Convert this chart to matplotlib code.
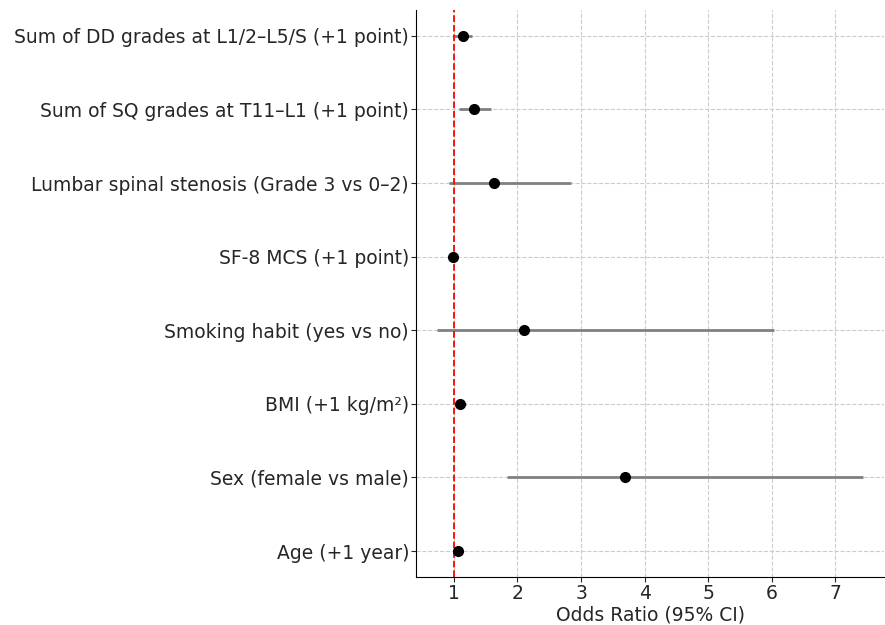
import matplotlib
matplotlib.use("Agg")
import matplotlib.pyplot as plt

# --- Data ---
labels = [
    "Sum of DD grades at L1/2\u2013L5/S (+1 point)",
    "Sum of SQ grades at T11\u2013L1 (+1 point)",
    "Lumbar spinal stenosis (Grade 3 vs 0\u20132)",
    "SF-8 MCS (+1 point)",
    "Smoking habit (yes vs no)",
    "BMI (+1 kg/m\u00b2)",
    "Sex (female vs male)",
    "Age (+1 year)",
]
odds_ratio = [1.14, 1.32, 1.63, 0.99, 2.11, 1.10, 3.69, 1.06]
ci_low = [1.00, 1.09, 0.92, 0.97, 0.74, 1.02, 1.83, 1.01]
ci_high = [1.29, 1.59, 2.84, 1.02, 6.03, 1.19, 7.43, 1.12]

TEXT_COLOR = "#262626"


def main():
    plt.rcParams["font.family"] = "DejaVu Sans"
    fig = plt.figure(figsize=(8.85, 6.25), dpi=100)
    ax = fig.add_axes([0.470, 0.077, 0.529, 0.907])

    n = len(labels)
    ypos = list(range(n - 1, -1, -1))  # first label at the top

    # CI lines
    ax.hlines(ypos, ci_low, ci_high, color="gray", linewidth=2, zorder=2)
    # point estimates
    ax.plot(odds_ratio, ypos, "o", color="black", markersize=7, zorder=3)
    # reference line at OR = 1
    ax.axvline(1, color="red", linestyle="--", linewidth=1.3, zorder=2.5)

    ax.set_yticks(ypos)
    ax.set_yticklabels(labels)
    ax.set_xticks([1, 2, 3, 4, 5, 6, 7])
    ax.set_xlabel("Odds Ratio (95% CI)", fontsize=13.5, color=TEXT_COLOR, labelpad=2)
    ax.tick_params(axis="both", labelsize=13.5, colors=TEXT_COLOR, pad=1.5)

    ax.grid(True, linestyle="--", color="#cccccc", linewidth=0.8, zorder=0)
    ax.set_axisbelow(True)
    ax.spines["top"].set_visible(False)
    ax.spines["right"].set_visible(False)

    fig.savefig("out.png", dpi=100)
    plt.close(fig)


if __name__ == "__main__":
    main()
